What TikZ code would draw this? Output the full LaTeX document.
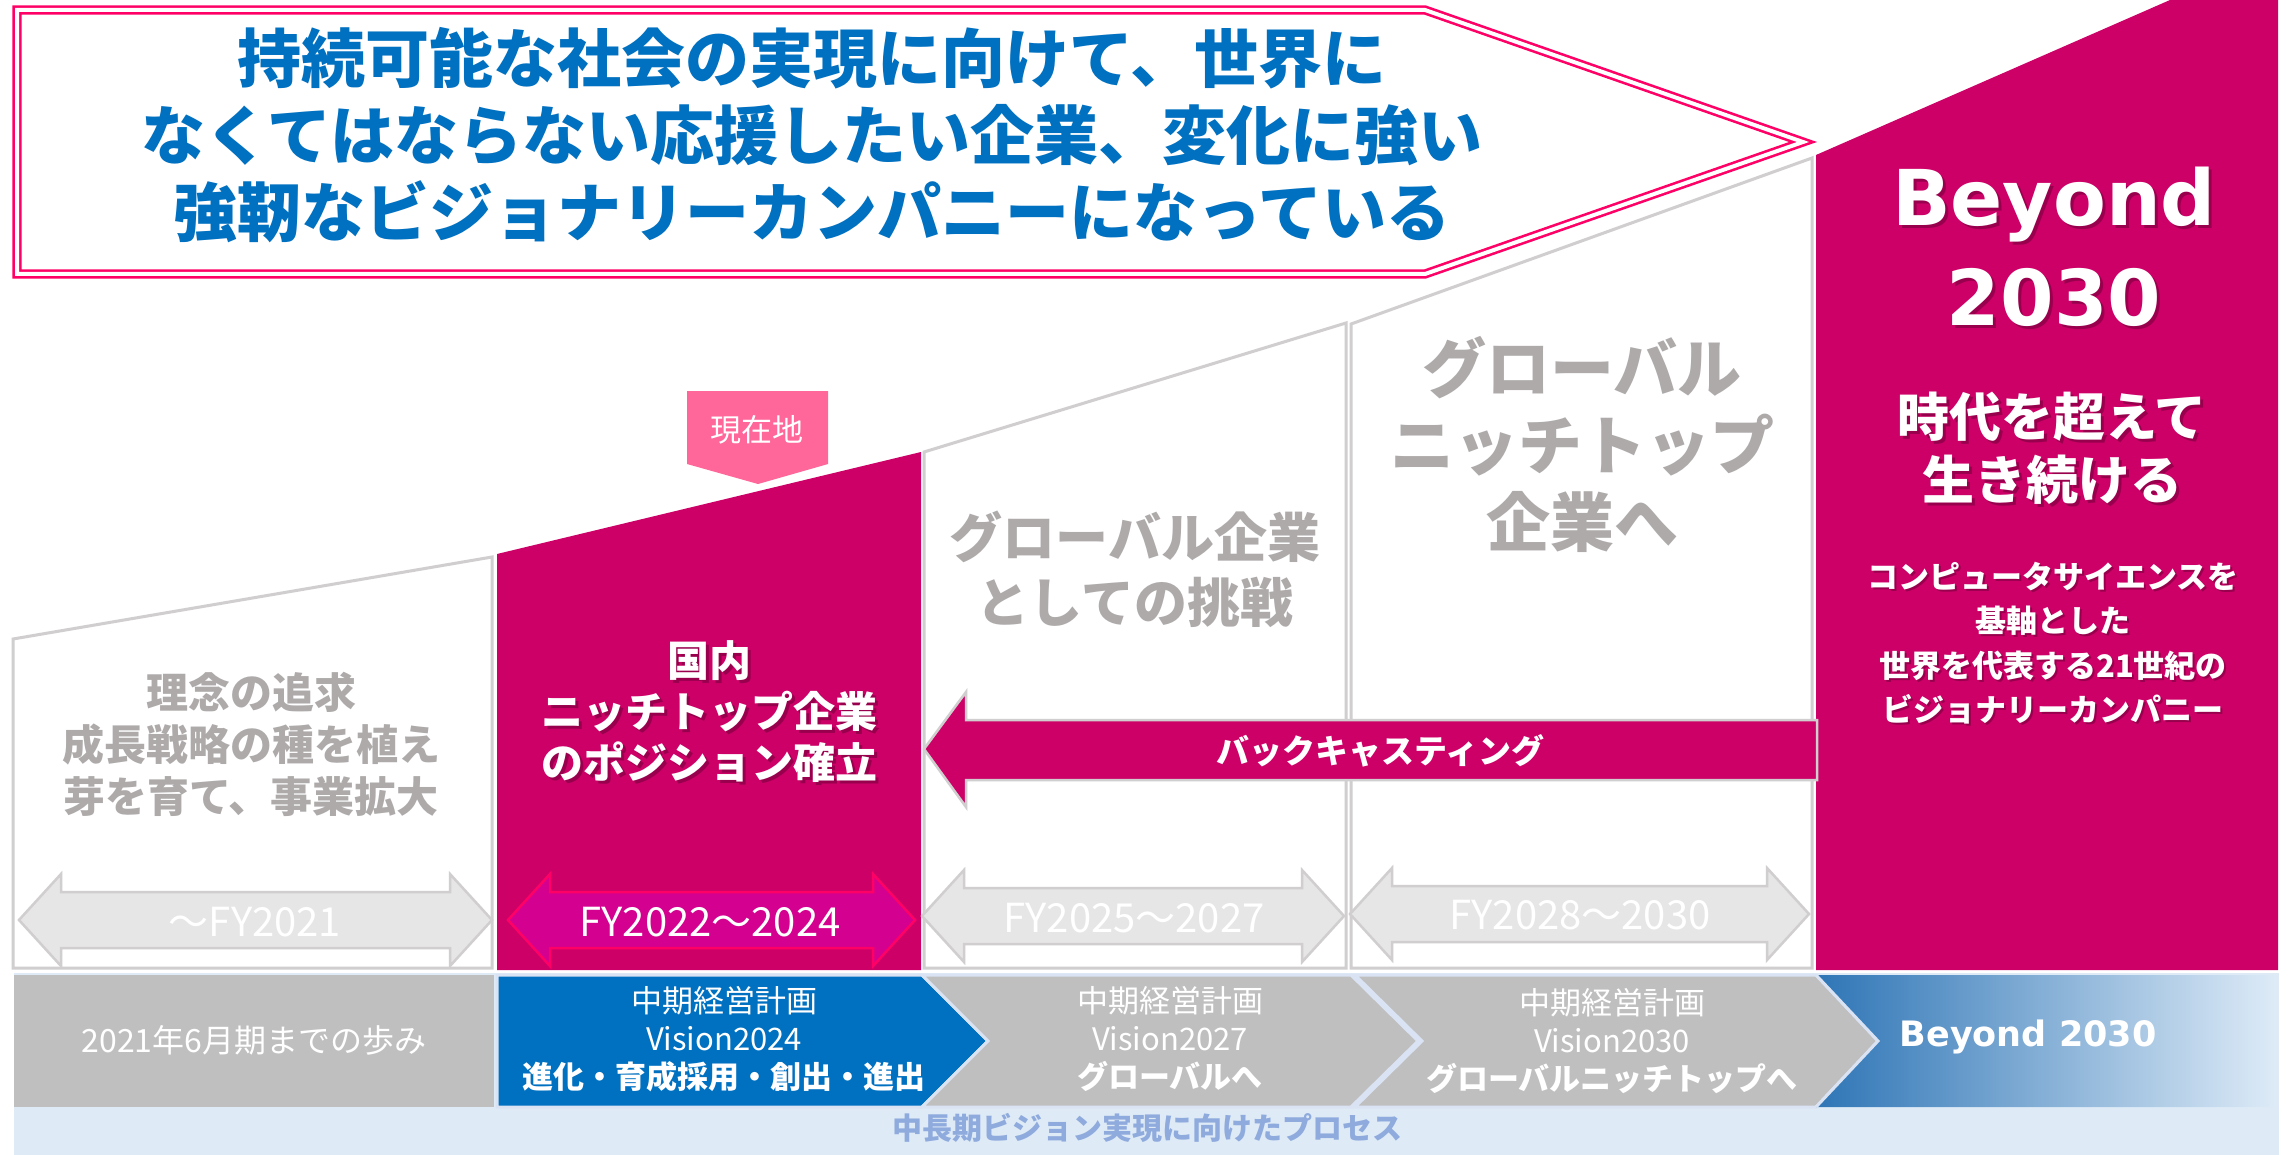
\documentclass[tikz,border=0pt]{standalone}
\usepackage{fontspec}
\setmainfont{Noto Sans CJK JP}
\newfontfamily\dvsans{DejaVu Sans}
\usetikzlibrary{calc}
\definecolor{mag}{HTML}{CC0066}
\definecolor{pinkline}{HTML}{FF0066}
\definecolor{edgegrey}{HTML}{D0CECE}
\definecolor{greytxt}{HTML}{AEAAAA}
\definecolor{blu}{HTML}{0070C0}
\definecolor{rowgrey}{HTML}{BFBFBF}
\definecolor{band}{HTML}{DEEBF7}
\definecolor{bandtxt}{HTML}{8FAADC}
\definecolor{marker}{HTML}{FF6699}
\definecolor{arrgrey}{HTML}{E7E6E6}
\definecolor{arrmag}{HTML}{D4008F}
\definecolor{gradL}{HTML}{2E75B6}
\definecolor{rowedge}{HTML}{DAE3F3}
\definecolor{shadowc}{HTML}{5A0030}
\newcommand\dblarr[4]{%
  \draw[#4] (#1,#3) -- ++(42,-46) -- ++(0,18) -- ($(#2,#3)+(-42,-28)$) -- ++(0,-18)
    -- (#2,#3) -- ++(-42,46) -- ++(0,-18) -- ($(#1,#3)+(42,28)$) -- ++(0,18) -- cycle;}
\begin{document}
\begin{tikzpicture}[x=1pt,y=-1pt,
  jb/.style 2 args={inner sep=0pt, align=center, font=\fontsize{#1}{#2}\selectfont\bfseries},
  jr/.style 2 args={inner sep=0pt, align=center, font=\fontsize{#1}{#2}\selectfont},
  colbox/.style={draw=edgegrey, line width=3pt, fill=white, line join=miter},
  greyarr/.style={draw=edgegrey, line width=2.5pt, fill=arrgrey},
  magarr/.style={draw=pinkline, line width=2.5pt, fill=arrmag},
  rowshape/.style={draw=rowedge, line width=3pt},
  shd/.style={text=shadowc, text opacity=0.45},
  bigbeyond/.style={inner sep=0pt, align=center, font=\fontsize{77}{100}\selectfont\dvsans\bfseries},
]
\useasboundingbox (0,0) rectangle (2288,1155);
\fill[white] (0,0) rectangle (2288,1155);

% bottom band
\fill[band] (14,973) rectangle (2279,1155);

% columns (staircase)
\draw[colbox] (13,639) -- (492,557) -- (492,968) -- (13,968) -- cycle;
\fill[mag] (497,554) -- (921,452) -- (921,970) -- (497,970) -- cycle;
\draw[colbox] (924,452) -- (1346,323) -- (1346,968) -- (924,968) -- cycle;
\draw[colbox] (1351,324) -- (1812,158) -- (1812,968) -- (1351,968) -- cycle;
\fill[mag] (1816,155) -- (2170,0) -- (2278,0) -- (2278,970) -- (1816,970) -- cycle;

% top banner
\draw[pinkline, line width=2.6pt, double=white, double distance=4pt, fill=white, line join=miter]
  (17,10) -- (1425,10) -- (1803,142) -- (1425,274) -- (17,274) -- cycle;
\node[jb={64}{77}, text=blu] (goal) at (812,135)
  {持続可能な社会の実現に向けて、世界に\\なくてはならない応援したい企業、変化に強い\\強靭なビジョナリーカンパニーになっている};

% current position marker
\fill[marker] (687,391) -- (828,391) -- (828,464) -- (758,484) -- (687,464) -- cycle;
\node[jr={31}{36}, white] (now) at (757,430) {現在地};

% column texts
\node[jb={42}{52}, text=greytxt] (t1) at (251,744) {理念の追求\\成長戦略の種を植え\\芽を育て、事業拡大};
\node[jb={42}{51}, shd] (t2s) at (712,715) {国内\\ニッチトップ企業\\のポジション確立};
\node[jb={42}{51}, white] (t2) at (709,712) {国内\\ニッチトップ企業\\のポジション確立};
\node[jb={53}{65}, text=greytxt] (t3) at (1135,569) {グローバル企業\\としての挑戦};
\node[jb={64}{77}, text=greytxt] (t4) at (1582,444) {グローバル\\ニッチトップ\\企業へ};
\node[bigbeyond, shd] (b30s) at (2057,250) {Beyond\\2030};
\node[bigbeyond, white] (b30) at (2054,247) {Beyond\\2030};
\node[jb={52}{63}, shd] (t5as) at (2055,451) {時代を超えて\\生き続ける};
\node[jb={52}{63}, white] (t5a) at (2052,448) {時代を超えて\\生き続ける};
\node[jb={31}{44.5}, shd] (t5bs) at (2055,645) {コンピュータサイエンスを\\基軸とした\\世界を代表する21世紀の\\ビジョナリーカンパニー};
\node[jb={31}{44.5}, white] (t5b) at (2053,643) {コンピュータサイエンスを\\基軸とした\\世界を代表する21世紀の\\ビジョナリーカンパニー};

% backcasting arrow
\draw[draw=edgegrey, line width=2.5pt, fill=mag, line join=miter]
  (924,749) -- (966,692) -- (966,720) -- (1817,720) -- (1817,780) -- (966,780) -- (966,807) -- cycle;
\node[jb={33}{40}, white] (bc) at (1380,751) {バックキャスティング};

% period double arrows
\dblarr{19}{492}{920}{greyarr}
\dblarr{508}{915}{920}{magarr}
\dblarr{922}{1344}{916}{greyarr}
\dblarr{1350}{1809}{914}{greyarr}
\node[jr={40}{46}, white] (fy1) at (255,922) {～FY2021};
\node[jr={40}{46}, white] (fy2) at (710,922) {FY2022～2024};
\node[jr={40}{46}, white] (fy3) at (1134,918) {FY2025～2027};
\node[jr={40}{46}, white] (fy4) at (1580,915) {FY2028～2030};

% process row
\fill[rowgrey] (14,975) rectangle (494,1107);
\draw[rowshape, fill=blu] (497,975) -- (922,975) -- (988,1041) -- (922,1107) -- (497,1107) -- cycle;
\draw[rowshape, fill=rowgrey] (922,975) -- (1351,975) -- (1418,1041) -- (1351,1107) -- (922,1107) -- (988,1041) -- cycle;
\draw[rowshape, fill=rowgrey] (1355,975) -- (1816,975) -- (1878,1041) -- (1816,1107) -- (1355,1107) -- (1422,1041) -- cycle;
\shade[left color=gradL, right color=band] (1816,975) -- (2277,975) -- (2277,1107) -- (1816,1107) -- (1878,1041) -- cycle;
\draw[rowedge, line width=3pt] (1816,975) -- (1878,1041) -- (1816,1107);

\node[jr={32}{38}, white] (r1) at (254,1040) {2021年6月期までの歩み};
\node[jr={31}{38}, white] (r2) at (724,1039) {中期経営計画\\Vision2024\\{\bfseries 進化・育成採用・創出・進出}};
\node[jr={31}{38}, white] (r3) at (1170,1039) {中期経営計画\\Vision2027\\{\bfseries グローバルへ}};
\node[jr={31}{38}, white] (r4) at (1612,1041) {中期経営計画\\Vision2030\\{\bfseries グローバルニッチトップへ}};
\node[inner sep=0pt, font=\fontsize{35}{40}\selectfont\dvsans\bfseries, white] (r5) at (2028,1037) {Beyond 2030};

\node[jb={30}{36}, text=bandtxt] (process) at (1147,1128) {中長期ビジョン実現に向けたプロセス};
\end{tikzpicture}
\end{document}
